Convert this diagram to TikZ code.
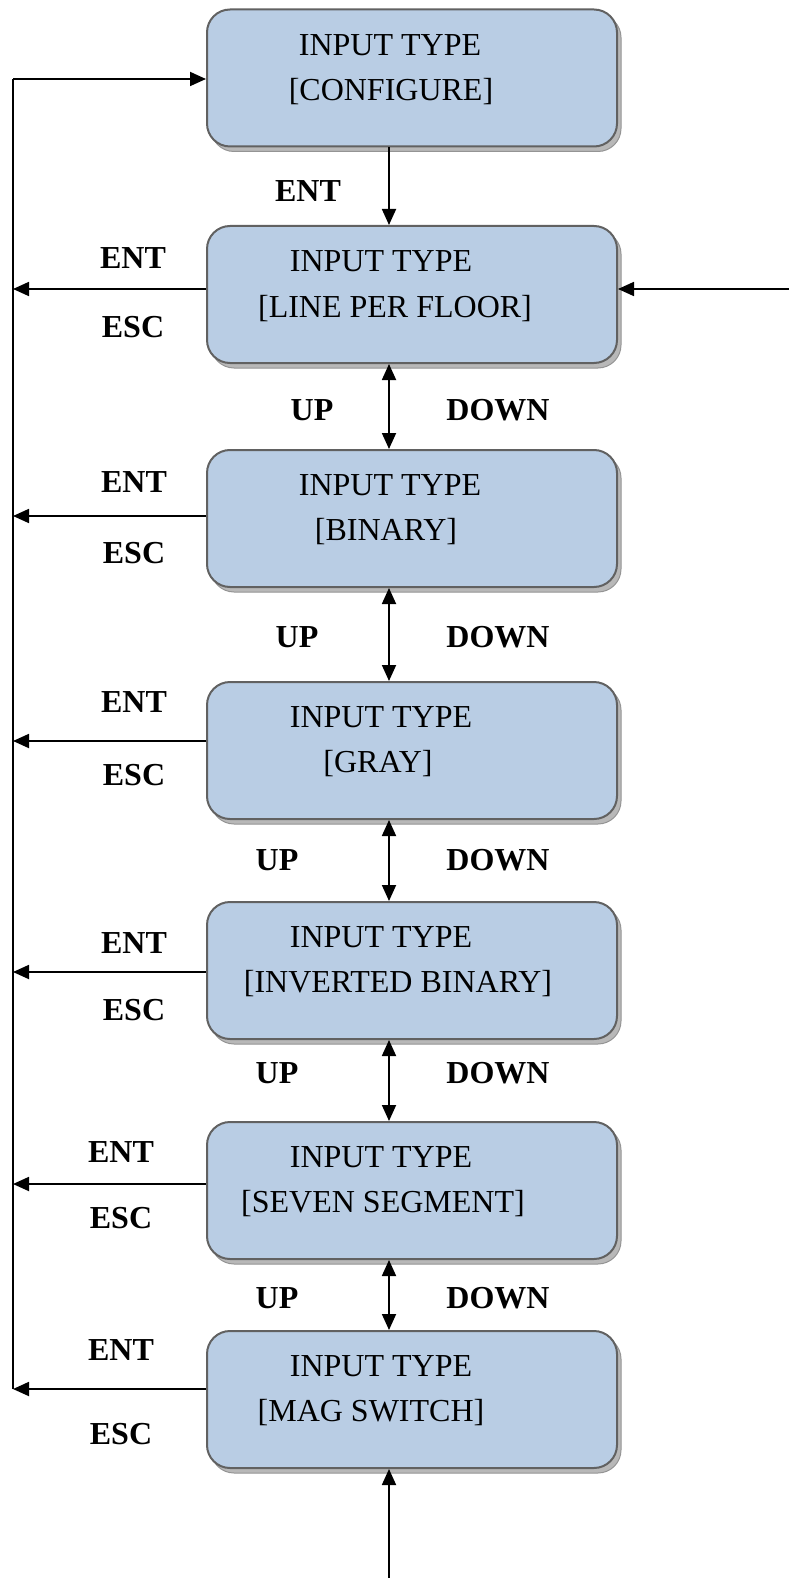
\documentclass[tikz,border=0pt]{standalone}
\usepackage{fontspec}
\setmainfont{Liberation Serif}
\usetikzlibrary{arrows.meta,shadows}

\tikzset{
  menubox/.style={rectangle, rounded corners=23pt, minimum width=410pt,
    minimum height=137pt, inner sep=0pt, draw=black!62, line width=2pt,
    fill={rgb,255:red,185;green,205;blue,228},
    general shadow={shadow xshift=4pt, shadow yshift=-5pt,
      fill=black!28, draw=black!42, line width=1pt}},
  boxtext/.style={anchor=base, inner sep=0pt, font=\fontsize{32}{38}\selectfont},
  keylabel/.style={inner sep=0pt, font=\fontsize{32}{38}\selectfont\bfseries},
  wire/.style={draw=black, line width=1.8pt},
  onearrow/.style={wire, -{Triangle[length=16pt,width=14pt]}},
  twoarrow/.style={wire, {Triangle[length=16pt,width=14pt]}-{Triangle[length=16pt,width=14pt]}},
}

\begin{document}
\begin{tikzpicture}[x=1pt,y=-1pt]
\useasboundingbox (0,0) rectangle (788,1578);

% menu boxes
\node[menubox] (b1) at (412,78)     {};
\node[menubox] (b2) at (412,294.5)  {};
\node[menubox] (b3) at (412,518.5)  {};
\node[menubox] (b4) at (412,750.5)  {};
\node[menubox] (b5) at (412,970.5)  {};
\node[menubox] (b6) at (412,1190.5) {};
\node[menubox] (b7) at (412,1399.5) {};

% box texts
\node[boxtext] (t1a) at (390,56)   {INPUT TYPE};
\node[boxtext] (t1b) at (391,101)  {[CONFIGURE]};
\node[boxtext] (t2a) at (381,272)  {INPUT TYPE};
\node[boxtext] (t2b) at (395,317)  {[LINE PER FLOOR]};
\node[boxtext] (t3a) at (390,495)  {INPUT TYPE};
\node[boxtext] (t3b) at (386,540)  {[BINARY]};
\node[boxtext] (t4a) at (381,727)  {INPUT TYPE};
\node[boxtext] (t4b) at (378,772)  {[GRAY]};
\node[boxtext] (t5a) at (381,947)  {INPUT TYPE};
\node[boxtext] (t5b) at (398,992)  {[INVERTED BINARY]};
\node[boxtext] (t6a) at (381,1167) {INPUT TYPE};
\node[boxtext] (t6b) at (383,1212) {[SEVEN SEGMENT]};
\node[boxtext] (t7a) at (381,1376) {INPUT TYPE};
\node[boxtext] (t7b) at (371,1421) {[MAG SWITCH]};

% guide points
\coordinate (cx) at (389,0);
\coordinate (railtop) at (13,79);
\coordinate (r2) at (13,289);
\coordinate (r3) at (13,516);
\coordinate (r4) at (13,741);
\coordinate (r5) at (13,972);
\coordinate (r6) at (13,1184);
\coordinate (r7) at (13,1389);
\coordinate (rin) at (790,289);
\coordinate (bin) at (389,1580);

% return rail on the left
\draw[wire] (r7) -- (railtop);
\draw[onearrow] (railtop) -- (b1.west |- railtop);
\draw[onearrow] (b2.west |- r2) -- (r2);
\draw[onearrow] (b3.west |- r3) -- (r3);
\draw[onearrow] (b4.west |- r4) -- (r4);
\draw[onearrow] (b5.west |- r5) -- (r5);
\draw[onearrow] (b6.west |- r6) -- (r6);
\draw[onearrow] (b7.west |- r7) -- (r7);

% entry from the right and from below
\draw[onearrow] (rin) -- (b2.east |- rin);
\draw[onearrow] (bin) -- (bin |- b7.south);

% vertical links
\draw[onearrow] (b1.south -| cx) -- (b2.north -| cx);
\draw[twoarrow] (b2.south -| cx) -- (b3.north -| cx);
\draw[twoarrow] (b3.south -| cx) -- (b4.north -| cx);
\draw[twoarrow] (b4.south -| cx) -- (b5.north -| cx);
\draw[twoarrow] (b5.south -| cx) -- (b6.north -| cx);
\draw[twoarrow] (b6.south -| cx) -- (b7.north -| cx);

% key labels
\node[keylabel] (k1)  at (308,191)  {ENT};
\node[keylabel] (e2)  at (133,258)  {ENT};
\node[keylabel] (s2)  at (133,327)  {ESC};
\node[keylabel] (e3)  at (134,482)  {ENT};
\node[keylabel] (s3)  at (134,553)  {ESC};
\node[keylabel] (e4)  at (134,702)  {ENT};
\node[keylabel] (s4)  at (134,775)  {ESC};
\node[keylabel] (e5)  at (134,943)  {ENT};
\node[keylabel] (s5)  at (134,1010) {ESC};
\node[keylabel] (e6)  at (121,1152) {ENT};
\node[keylabel] (s6)  at (121,1218) {ESC};
\node[keylabel] (e7)  at (121,1350) {ENT};
\node[keylabel] (s7)  at (121,1434) {ESC};

\node[keylabel] (u1) at (312,410)  {UP};
\node[keylabel] (d1) at (498,410)  {DOWN};
\node[keylabel] (u2) at (297,637)  {UP};
\node[keylabel] (d2) at (498,637)  {DOWN};
\node[keylabel] (u3) at (277,860)  {UP};
\node[keylabel] (d3) at (498,860)  {DOWN};
\node[keylabel] (u4) at (277,1073) {UP};
\node[keylabel] (d4) at (498,1073) {DOWN};
\node[keylabel] (u5) at (277,1298) {UP};
\node[keylabel] (d5) at (498,1298) {DOWN};
\end{tikzpicture}
\end{document}
